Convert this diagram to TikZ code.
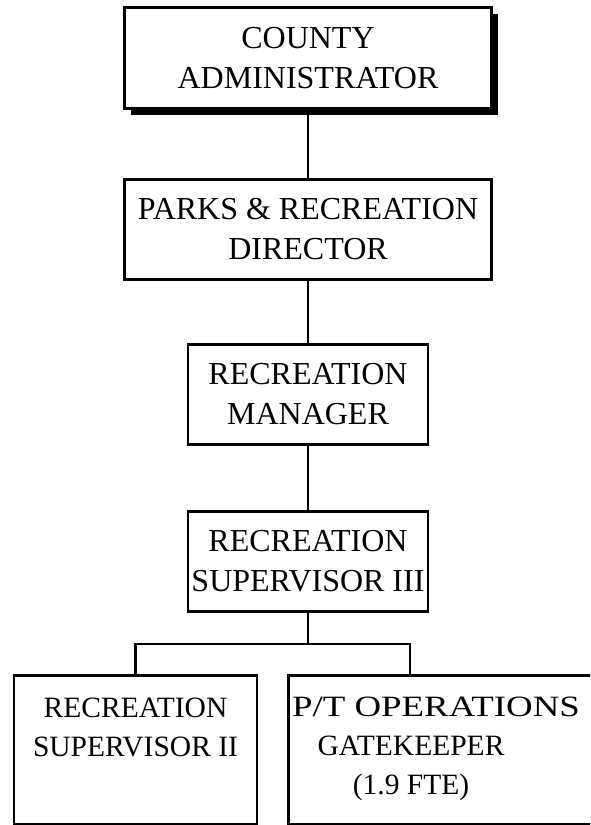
\documentclass[tikz,border=0pt]{standalone}
\usepackage{fontspec}
\setmainfont{Liberation Serif}
\usetikzlibrary{shadows}
\begin{document}
\begin{tikzpicture}[x=1pt,y=-1pt,
  orgbox/.style={draw=black, line width=2.6pt, fill=white, inner sep=0pt,
    align=center, font=\fontsize{32}{40}\selectfont},
  label/.style={inner sep=0pt, align=center, font=\fontsize{29.5}{39}\selectfont},
  link/.style={draw=black, line width=2.6pt}]
\useasboundingbox (0,0) rectangle (590,825);
\clip (0,0) rectangle (590,825);

% chain of command
\node[orgbox, line width=2.9pt, minimum width=367pt, minimum height=101pt,
  drop shadow={shadow xshift=6pt, shadow yshift=-6pt, fill=black, opacity=1}]
  (admin) at (308,58) {COUNTY\\ADMINISTRATOR};
\node[orgbox, minimum width=367pt, minimum height=100pt]
  (director) at (308,229.5) {PARKS \& RECREATION\\DIRECTOR};
\node[orgbox, minimum width=240pt, minimum height=100pt]
  (manager) at (308,394.5) {RECREATION\\MANAGER};
\node[orgbox, minimum width=240pt, minimum height=100pt]
  (sup3) at (308,561.5) {RECREATION\\SUPERVISOR III};

% bottom row: tall boxes, text set in their upper part
\node[orgbox, minimum width=243pt, minimum height=149pt]
  (sup2) at (135.5,750) {};
\node[orgbox, minimum width=340pt, minimum height=149pt]
  (gate) at (458.5,750) {};
\node[label] (sup2text) at (135.5,727) {RECREATION\\SUPERVISOR II};
% the first line is wider than the box and runs from its left edge
\node[label] (gatetext) at (411,748.5)
  {\makebox[0pt][l]{\hspace*{-119pt}\scalebox{1.25}[1]{P/T OPERATIONS}}\\GATEKEEPER\\(1.9 FTE)};

% connectors
\coordinate (joint) at (308,644);
\coordinate (gatein) at (410,675.5);
\draw[link] (admin.south) -- (director.north);
\draw[link] (director.south) -- (manager.north);
\draw[link] (manager.south) -- (sup3.north);
\draw[link] (sup3.south) -- (joint);
\draw[link] (sup2.north) -- (sup2.north |- joint) -- (gatein |- joint) -- (gatein);
\end{tikzpicture}
\end{document}
